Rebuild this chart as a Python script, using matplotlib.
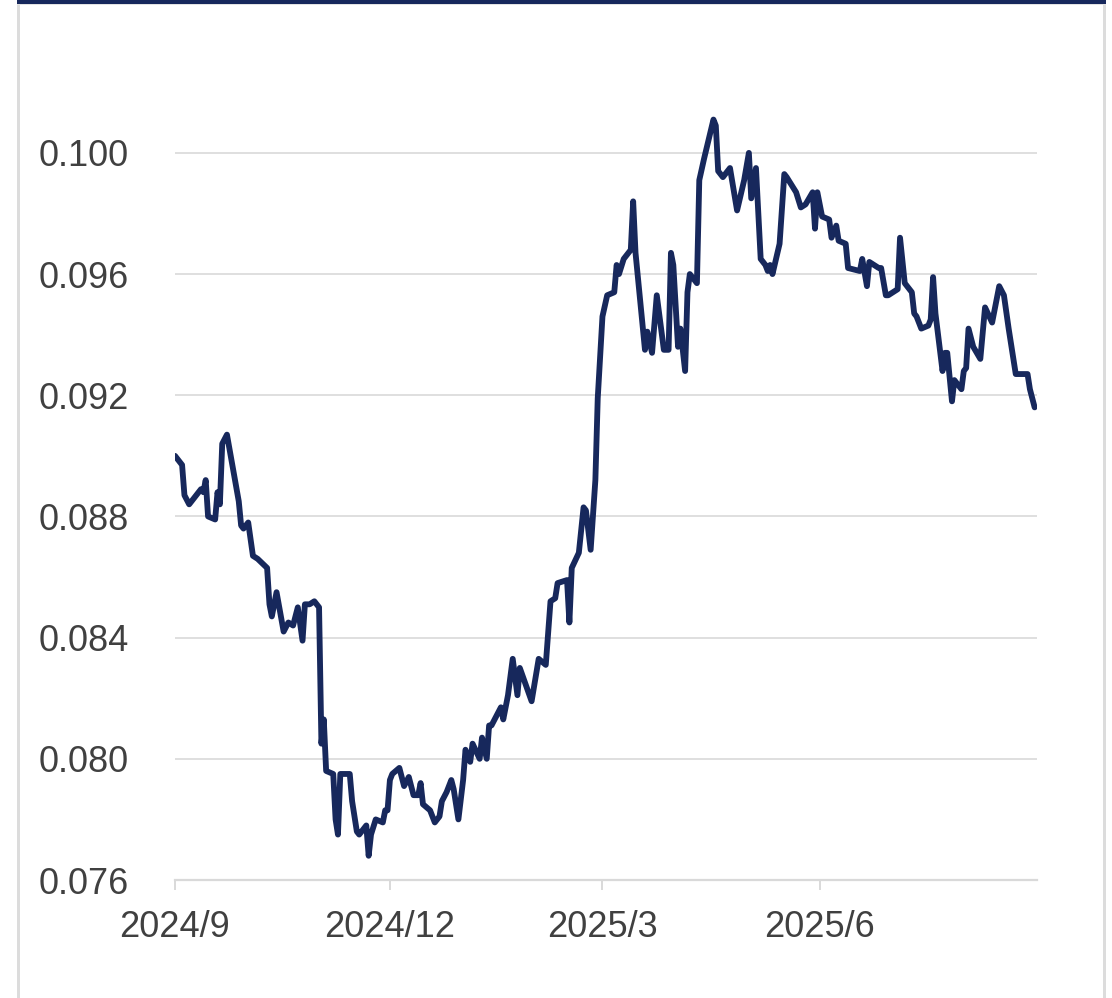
import numpy as np
import pandas as pd
import matplotlib
matplotlib.use("Agg")
import matplotlib.pyplot as plt
import matplotlib.dates as mdates
from matplotlib.patches import Rectangle

plt.rcParams['font.family'] = ['Liberation Sans', 'DejaVu Sans']

# data
dates = [
    '2024-09-01', '2024-09-04', '2024-09-05', '2024-09-07', '2024-09-12', '2024-09-13',
    '2024-09-14', '2024-09-15', '2024-09-18', '2024-09-19', '2024-09-20', '2024-09-21',
    '2024-09-23', '2024-09-28', '2024-09-29', '2024-09-30', '2024-10-02', '2024-10-04',
    '2024-10-06', '2024-10-10', '2024-10-11', '2024-10-12', '2024-10-14', '2024-10-17',
    '2024-10-19', '2024-10-21', '2024-10-23', '2024-10-25', '2024-10-26', '2024-10-28',
    '2024-10-30', '2024-11-01', '2024-11-02', '2024-11-03', '2024-11-04', '2024-11-07',
    '2024-11-08', '2024-11-09', '2024-11-10', '2024-11-14', '2024-11-15', '2024-11-17',
    '2024-11-18', '2024-11-21', '2024-11-22', '2024-11-23', '2024-11-25', '2024-11-28',
    '2024-11-29', '2024-11-30', '2024-12-01', '2024-12-02', '2024-12-05', '2024-12-06',
    '2024-12-07', '2024-12-09', '2024-12-11', '2024-12-13', '2024-12-14', '2024-12-15',
    '2024-12-18', '2024-12-20', '2024-12-22', '2024-12-23', '2024-12-25', '2024-12-27',
    '2024-12-28', '2024-12-30', '2025-01-01', '2025-01-02', '2025-01-04', '2025-01-05',
    '2025-01-08', '2025-01-09', '2025-01-11', '2025-01-12', '2025-01-13', '2025-01-17',
    '2025-01-18', '2025-01-20', '2025-01-22', '2025-01-24', '2025-01-25', '2025-01-30',
    '2025-02-02', '2025-02-05', '2025-02-07', '2025-02-09', '2025-02-10', '2025-02-14',
    '2025-02-15', '2025-02-16', '2025-02-19', '2025-02-21', '2025-02-22', '2025-02-24',
    '2025-02-26', '2025-02-27', '2025-03-01', '2025-03-03', '2025-03-06', '2025-03-07',
    '2025-03-08', '2025-03-10', '2025-03-13', '2025-03-14', '2025-03-15', '2025-03-17',
    '2025-03-19', '2025-03-20', '2025-03-22', '2025-03-24', '2025-03-27', '2025-03-29',
    '2025-03-30', '2025-03-31', '2025-04-02', '2025-04-03', '2025-04-05', '2025-04-06',
    '2025-04-07', '2025-04-10', '2025-04-11', '2025-04-13', '2025-04-17', '2025-04-18',
    '2025-04-19', '2025-04-21', '2025-04-24', '2025-04-27', '2025-04-30', '2025-05-02',
    '2025-05-03', '2025-05-05', '2025-05-07', '2025-05-09', '2025-05-10', '2025-05-11',
    '2025-05-12', '2025-05-15', '2025-05-17', '2025-05-18', '2025-05-22', '2025-05-24',
    '2025-05-26', '2025-05-29', '2025-05-30', '2025-05-31', '2025-06-02', '2025-06-05',
    '2025-06-06', '2025-06-08', '2025-06-09', '2025-06-12', '2025-06-13', '2025-06-18',
    '2025-06-19', '2025-06-21', '2025-06-22', '2025-06-26', '2025-06-27', '2025-06-29',
    '2025-06-30', '2025-07-04', '2025-07-05', '2025-07-07', '2025-07-10', '2025-07-11',
    '2025-07-12', '2025-07-14', '2025-07-17', '2025-07-18', '2025-07-19', '2025-07-20',
    '2025-07-23', '2025-07-24', '2025-07-25', '2025-07-27', '2025-07-28', '2025-07-31',
    '2025-08-01', '2025-08-02', '2025-08-03', '2025-08-05', '2025-08-08', '2025-08-10',
    '2025-08-13', '2025-08-16', '2025-08-18', '2025-08-20', '2025-08-23', '2025-08-28',
    '2025-08-29', '2025-08-31',
]
values = [
    0.0900, 0.0897, 0.0887, 0.0884, 0.0889, 0.0888,
    0.0892, 0.0880, 0.0879, 0.0888, 0.0884, 0.0904,
    0.0907, 0.0885, 0.0877, 0.0876, 0.0878, 0.0867,
    0.0866, 0.0863, 0.0851, 0.0847, 0.0855, 0.0842,
    0.0845, 0.0844, 0.0850, 0.0839, 0.0851, 0.0851,
    0.0852, 0.0850, 0.0805, 0.0813, 0.0796, 0.0795,
    0.0780, 0.0775, 0.0795, 0.0795, 0.0786, 0.0776,
    0.0775, 0.0778, 0.0768, 0.0775, 0.0780, 0.0779,
    0.0783, 0.0783, 0.0793, 0.0795, 0.0797, 0.0794,
    0.0791, 0.0794, 0.0788, 0.0788, 0.0792, 0.0785,
    0.0783, 0.0779, 0.0781, 0.0786, 0.0789, 0.0793,
    0.0790, 0.0780, 0.0793, 0.0803, 0.0799, 0.0805,
    0.0800, 0.0807, 0.0800, 0.0811, 0.0811, 0.0817,
    0.0813, 0.0821, 0.0833, 0.0821, 0.0830, 0.0819,
    0.0833, 0.0831, 0.0852, 0.0853, 0.0858, 0.0859,
    0.0845, 0.0863, 0.0868, 0.0883, 0.0882, 0.0869,
    0.0892, 0.0919, 0.0946, 0.0953, 0.0954, 0.0963,
    0.0960, 0.0965, 0.0968, 0.0984, 0.0967, 0.0951,
    0.0935, 0.0941, 0.0934, 0.0953, 0.0935, 0.0935,
    0.0967, 0.0963, 0.0936, 0.0942, 0.0928, 0.0954,
    0.0960, 0.0957, 0.0991, 0.0998, 0.1011, 0.1009,
    0.0994, 0.0992, 0.0995, 0.0981, 0.0991, 0.1000,
    0.0985, 0.0995, 0.0965, 0.0963, 0.0961, 0.0963,
    0.0960, 0.0970, 0.0993, 0.0992, 0.0987, 0.0982,
    0.0983, 0.0987, 0.0975, 0.0987, 0.0979, 0.0978,
    0.0972, 0.0976, 0.0971, 0.0970, 0.0962, 0.0961,
    0.0965, 0.0956, 0.0964, 0.0962, 0.0962, 0.0953,
    0.0953, 0.0955, 0.0972, 0.0957, 0.0954, 0.0947,
    0.0946, 0.0942, 0.0943, 0.0945, 0.0959, 0.0947,
    0.0928, 0.0934, 0.0934, 0.0918, 0.0925, 0.0922,
    0.0928, 0.0929, 0.0942, 0.0936, 0.0932, 0.0949,
    0.0944, 0.0956, 0.0953, 0.0942, 0.0927, 0.0927,
    0.0922, 0.0916,
]
yticks = [0.076, 0.080, 0.084, 0.088, 0.092, 0.096, 0.100]
xticks = ['2024-09-01', '2024-12-01', '2025-03-01', '2025-06-01']
xticklabels = ['2024/9', '2024/12', '2025/3', '2025/6']

W, H = 1112, 998
fig = plt.figure(figsize=(W / 100, H / 100), dpi=100)

# card frame: light grey border with a navy strip on top
def px(x0, y0, w, h):
    return (x0 / W, 1 - (y0 + h) / H), w / W, h / H

for (x0, y0, w, h), c in [((17, 3, 3, 995), '#dcdcdc'), ((1103, 3, 3, 995), '#dcdcdc'),
                          ((17, 3, 1089, 2), '#e3e3e3'), ((17, 0, 1089, 4), '#17285c')]:
    xy, fw, fh = px(x0, y0, w, h)
    fig.add_artist(Rectangle(xy, fw, fh, transform=fig.transFigure, color=c, lw=0))

ax = fig.add_axes([175 / W, (H - 880) / H, (1037 - 175) / W, (880 - 62) / H])

x = pd.to_datetime(dates)
ax.plot(x, values, color='#17285c', lw=4.2, solid_joinstyle='round',
        solid_capstyle='round', zorder=3)

ax.set_xlim(pd.Timestamp('2024-09-01'), pd.Timestamp('2025-09-01'))
ax.set_ylim(0.076, 0.103)
ax.set_yticks(yticks)
ax.set_yticklabels([f'{v:.3f}' for v in yticks])
ax.set_xticks(pd.to_datetime(xticks))
ax.set_xticklabels(xticklabels)

ax.grid(axis='y', color='#d9d9d9', lw=1.2)
ax.set_axisbelow(True)
for s in ['top', 'right', 'left']:
    ax.spines[s].set_visible(False)
ax.spines['bottom'].set_color('#d9d9d9')
ax.spines['bottom'].set_linewidth(1.6)

ax.tick_params(axis='y', length=0, pad=33, labelsize=26, labelcolor='#404040')
ax.tick_params(axis='x', length=7.5, width=1.4, color='#d9d9d9', pad=14,
               labelsize=26, labelcolor='#404040')

fig.savefig('out.png', dpi=100)
